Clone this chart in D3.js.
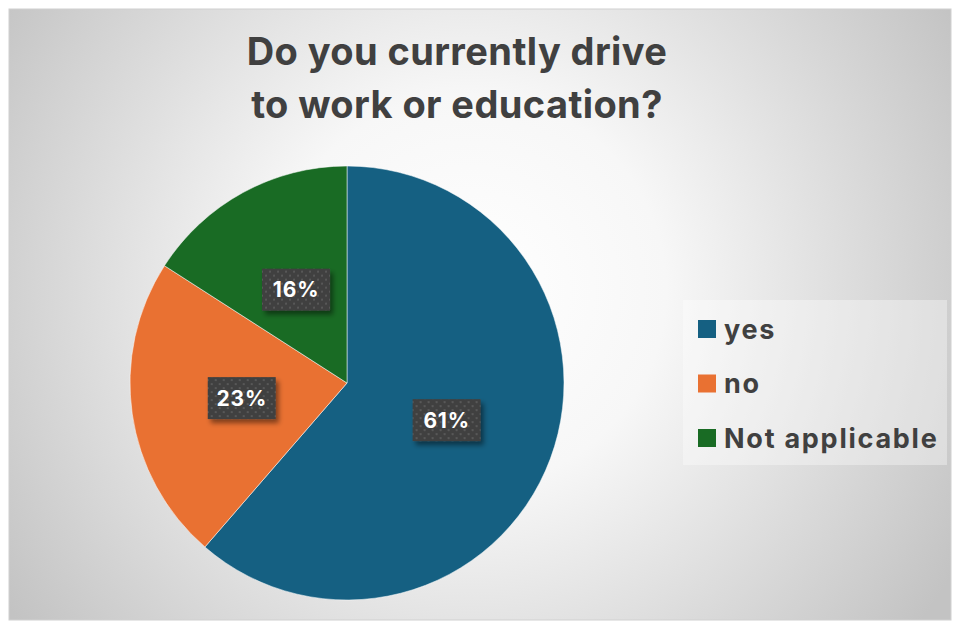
<!DOCTYPE html>
<html>
<head>
<meta charset="utf-8">
<script src="https://cdn.jsdelivr.net/npm/d3@7"></script>
<style>
  html, body { margin: 0; padding: 0; background: #ffffff; }
  svg { display: block; }
</style>
</head>
<body>
<script>
// chart data (responses; shares)
const categories = ["yes", "no", "Not applicable"];
const values = [27, 10, 7];
const colors = ["#156082", "#E97132", "#196B24"];
const titleLines = ["Do you currently drive", "to work or education?"];

const width = 953, height = 622;
const cx = 347, cy = 383, radius = 217;
const font = "Inter, 'Open Sans', sans-serif";

const svg = d3.select("body").append("svg")
  .attr("width", width)
  .attr("height", height)
  .attr("viewBox", [0, 0, width, height]);

const defs = svg.append("defs");

// background gradient
const bg = defs.append("radialGradient")
  .attr("id", "bg")
  .attr("gradientUnits", "userSpaceOnUse")
  .attr("cx", 470).attr("cy", 290).attr("r", 560);
bg.append("stop").attr("offset", "0%").attr("stop-color", "#ffffff");
bg.append("stop").attr("offset", "35%").attr("stop-color", "#f7f7f7");
bg.append("stop").attr("offset", "100%").attr("stop-color", "#c3c3c3");

// dotted fill for the data labels
const pat = defs.append("pattern")
  .attr("id", "dots")
  .attr("patternUnits", "userSpaceOnUse")
  .attr("width", 8).attr("height", 8);
pat.append("rect").attr("width", 8).attr("height", 8).attr("fill", "#404040");
pat.append("rect").attr("x", 1).attr("y", 1).attr("width", 2).attr("height", 2).attr("fill", "#585858");
pat.append("rect").attr("x", 5).attr("y", 5).attr("width", 2).attr("height", 2).attr("fill", "#585858");

const shadow = defs.append("filter")
  .attr("id", "shadow")
  .attr("x", "-30%").attr("y", "-30%").attr("width", "160%").attr("height", "160%");
shadow.append("feDropShadow")
  .attr("dx", 3).attr("dy", 4).attr("stdDeviation", 2.5)
  .attr("flood-color", "#000").attr("flood-opacity", 0.45);

svg.append("rect")
  .attr("x", 9).attr("y", 9)
  .attr("width", 942).attr("height", 611)
  .attr("fill", "url(#bg)")
  .attr("stroke", "#d0d0d0")
  .attr("stroke-width", 1);

// Title
svg.append("g")
  .selectAll("text")
  .data(titleLines)
  .join("text")
    .attr("x", 457)
    .attr("y", (d, i) => 65 + i * 53)
    .attr("text-anchor", "middle")
    .attr("font-family", font)
    .attr("font-weight", 700)
    .attr("font-size", "38px")
    .attr("letter-spacing", "0.4px")
    .attr("fill", "#404040")
    .text(d => d);

// Pie
const data = categories.map((c, i) => ({ name: c, value: values[i], color: colors[i] }));
const total = d3.sum(values);

const pie = d3.pie()
  .sort(null)
  .value(d => d.value);

const arc = d3.arc().innerRadius(0).outerRadius(radius);
const labelArc = d3.arc().innerRadius(radius * 0.49).outerRadius(radius * 0.49);

const g = svg.append("g").attr("transform", `translate(${cx},${cy})`);

g.selectAll("path")
  .data(pie(data))
  .join("path")
    .attr("d", arc)
    .attr("fill", d => d.data.color)
    .attr("stroke", "#ffffff")
    .attr("stroke-opacity", 0.5)
    .attr("stroke-width", 1);

// Data labels
const labels = g.selectAll("g.lbl")
  .data(pie(data))
  .join("g")
    .attr("class", "lbl")
    .attr("transform", d => `translate(${labelArc.centroid(d)})`);

labels.append("rect")
  .attr("x", -34).attr("y", -21)
  .attr("width", 68).attr("height", 42)
  .attr("fill", "url(#dots)")
  .attr("filter", "url(#shadow)");

labels.append("text")
  .attr("text-anchor", "middle")
  .attr("dy", "0.36em")
  .attr("font-family", font)
  .attr("font-weight", 700)
  .attr("font-size", "21px")
  .attr("letter-spacing", "0.8px")
  .attr("fill", "#ffffff")
  .text(d => Math.round(d.data.value / total * 100) + "%");

// Legend
const legend = svg.append("g").attr("transform", "translate(683,300)");

legend.append("rect")
  .attr("width", 264).attr("height", 165)
  .attr("fill", "#ffffff")
  .attr("fill-opacity", 0.35);

const items = legend.selectAll("g.item")
  .data(data)
  .join("g")
    .attr("class", "item")
    .attr("transform", (d, i) => `translate(15,${29 + i * 54.5})`);

items.append("rect")
  .attr("x", 0).attr("y", -9)
  .attr("width", 18).attr("height", 18)
  .attr("fill", d => d.color);

items.append("text")
  .attr("x", 26)
  .attr("dy", "0.36em")
  .attr("font-family", font)
  .attr("font-weight", 700)
  .attr("font-size", "27px")
  .attr("letter-spacing", "1.75px")
  .attr("fill", "#404040")
  .text(d => d.name);
</script>
</body>
</html>
